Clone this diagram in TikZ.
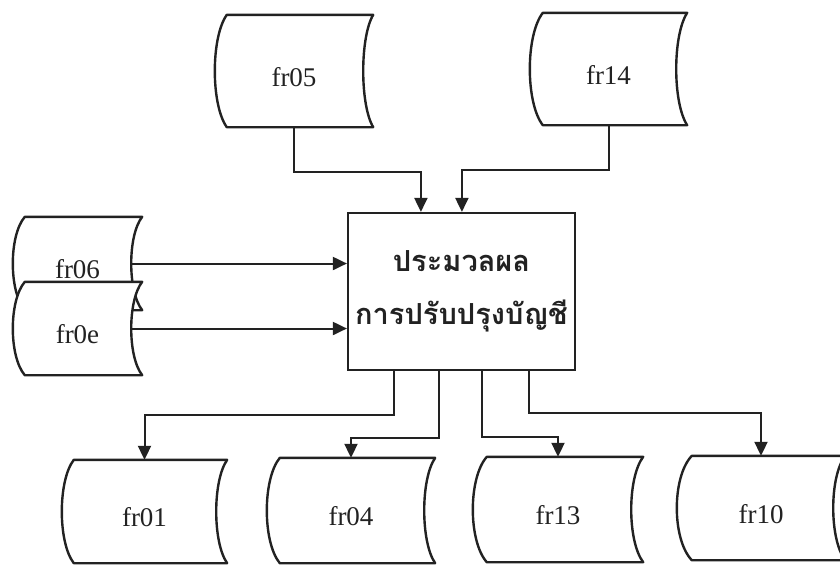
\documentclass[tikz,border=0pt]{standalone}
\usepackage{fontspec}
\setmainfont{Liberation Serif}
\newfontfamily\thaifont[Script=Thai]{Loma}
\usetikzlibrary{arrows.meta,calc,backgrounds}
\definecolor{ink}{HTML}{222222}
\tikzset{
  storebox/.style={inner sep=0pt, text=ink, font=\fontsize{27}{27}\selectfont, text height=30pt, text depth=0pt},
  storeline/.style={draw=ink, line width=2.4pt, fill=white, line join=round},
  procbox/.style={draw=ink, line width=2.2pt, fill=white, inner sep=0pt, align=center, text=ink,
    font=\thaifont\bfseries\fontsize{29}{53}\selectfont},
  arr/.style={draw=ink, line width=2pt, -{Triangle[length=14pt,width=13pt]}},
}
% #1 name, #2 left bulge, #3 right inward bulge
\newcommand\storeshape[3]{%
  \begin{scope}[on background layer]
    \draw[storeline] ($(#1.north west)+(#2,0)$) -- (#1.north east)
      .. controls ($(#1.north east)!0.2!(#1.south east)+(-1.333*#3,0)$)
             and ($(#1.north east)!0.8!(#1.south east)+(-1.333*#3,0)$) .. (#1.south east)
      -- ($(#1.south west)+(#2,0)$)
      .. controls ($(#1.south west)!0.2!(#1.north west)+(-0.333*#2,0)$)
             and ($(#1.south west)!0.8!(#1.north west)+(-0.333*#2,0)$) .. ($(#1.north west)+(#2,0)$)
      -- cycle;
  \end{scope}}
\begin{document}
\begin{tikzpicture}[x=1pt,y=-1pt]
\useasboundingbox (0,0) rectangle (840,566);

% top inputs
\node[storebox, minimum width=158pt, minimum height=112pt] (fr05) at (294,71) {fr05};
\storeshape{fr05}{12}{10}
\node[storebox, minimum width=157pt, minimum height=112pt] (fr14) at (608.5,69) {fr14};
\storeshape{fr14}{13}{11}

% left inputs
\node[storebox, minimum width=129pt, minimum height=93pt] (fr06) at (77.5,263.5) {fr06};
\storeshape{fr06}{12}{11}
\node[storebox, minimum width=129pt, minimum height=93pt] (fr0e) at (77.5,328.5) {fr0e};
\storeshape{fr0e}{12}{11}

% process
\node[procbox, minimum width=227pt, minimum height=157pt] (box) at (461.5,291.5) {ประมวลผล\\การปรับปรุงบัญชี};

% outputs
\node[storebox, minimum width=165pt, minimum height=103pt] (fr01) at (144.5,511.5) {fr01};
\storeshape{fr01}{12}{11}
\node[storebox, minimum width=168pt, minimum height=105pt] (fr04) at (351,510.5) {fr04};
\storeshape{fr04}{13}{11}
\node[storebox, minimum width=170pt, minimum height=105pt] (fr13) at (558,509.5) {fr13};
\storeshape{fr13}{14}{12}
\node[storebox, minimum width=168pt, minimum height=104pt] (fr10) at (761,508) {fr10};
\storeshape{fr10}{15}{12}

% connectors in
\draw[arr] (fr05.south) -- ++(0,45) -| ($(box.north west)+(74,0)$);
\draw[arr] (fr14.south) -- ++(0,45) -| ($(box.north west)+(115,0)$);
\draw[arr] ($(fr06.east)+(-11,0)$) -- (box.west |- fr06.east);
\draw[arr] ($(fr0e.east)+(-10,0)$) -- (box.west |- fr0e.east);

% connectors out
\draw[arr] ($(box.south west)+(47,0)$) -- ++(0,44) -| (fr01.north);
\draw[arr] ($(box.south west)+(92,0)$) -- ++(0,67) -| (fr04.north);
\draw[arr] ($(box.south west)+(135,0)$) -- ++(0,66) -| (fr13.north);
\draw[arr] ($(box.south west)+(182,0)$) -- ++(0,42) -| (fr10.north);
\end{tikzpicture}
\end{document}
